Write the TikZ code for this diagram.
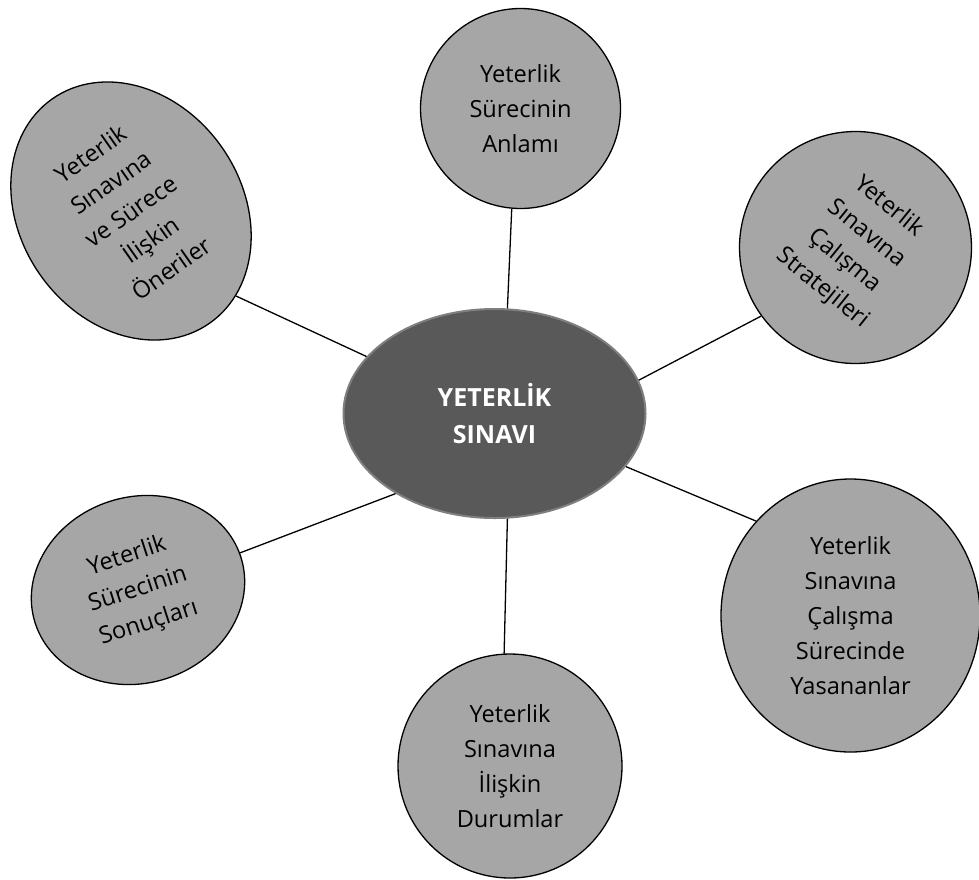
\documentclass[tikz,border=0pt]{standalone}
\usepackage{fontspec}
\setmainfont{Open Sans}
\usepackage{tikz}
\usetikzlibrary{shapes.geometric}

\definecolor{hubgray}{RGB}{89,89,89}
\definecolor{hubedge}{RGB}{127,127,127}
\definecolor{bubblegray}{RGB}{166,166,166}

\tikzset{
  bubble/.style={ellipse, draw=black, fill=bubblegray, line width=0.65pt, inner sep=0pt, align=center, font=\fontsize{11.8}{17.5}\selectfont},
  hub/.style={ellipse, draw=hubedge, fill=hubgray, line width=1pt, inner sep=0pt, align=center, text=white, font=\fontsize{12.5}{18.3}\selectfont\bfseries},
  spoke/.style={line width=0.65pt}
}

\begin{document}
\begin{tikzpicture}[x=0.5pt,y=0.5pt,yscale=-1,xscale=1]
\useasboundingbox (0,0) rectangle (979,879);

% Centre
\node [hub, minimum width=151pt, minimum height=104.5pt] (sinav) at (494.5,413.5) {YETERLİK\\SINAVI};

% Outer bubbles
\node [bubble, minimum width=100pt, minimum height=100pt] (anlam) at (520.5,108.5) {Yeterlik\\Sürecinin\\Anlamı};
\node [bubble, minimum width=116pt, minimum height=116pt, rotate=-39] (strateji) at (855.5,247.5) {Yeterlik\\Sınavına\\Çalışma\\Stratejileri};
\node [bubble, minimum width=129.5pt, minimum height=136.5pt] (yasanan) at (850.5,615.5) {Yeterlik\\Sınavına\\Çalışma\\Sürecinde\\Yasananlar};
\node [bubble, minimum width=112pt, minimum height=112pt] (durum) at (510,766) {Yeterlik\\Sınavına\\İlişkin\\Durumlar};
\node [bubble, minimum width=108pt, minimum height=93pt, rotate=18] (sonuc) at (138,590) {Yeterlik\\Sürecinin\\Sonuçları};
\node [bubble, minimum width=111pt, minimum height=137pt, rotate=35] (oneri) at (131,211) {Yeterlik\\Sınavına\\ve Sürece\\İlişkin\\Öneriler};

%Straight Lines
\draw [spoke] (sinav.83.3) -- (anlam.265.2);
\draw [spoke] (sinav.13.6) -- (strateji.255.6);
\draw [spoke] (sinav.-22.6) -- (yasanan.135.9);
\draw [spoke] (sinav.-83.2) -- (durum.93.1);
\draw [spoke] (sinav.219.5) -- (sonuc.2.4);
\draw [spoke] (sinav.156.1) -- (oneri.-74.6);

\end{tikzpicture}
\end{document}
